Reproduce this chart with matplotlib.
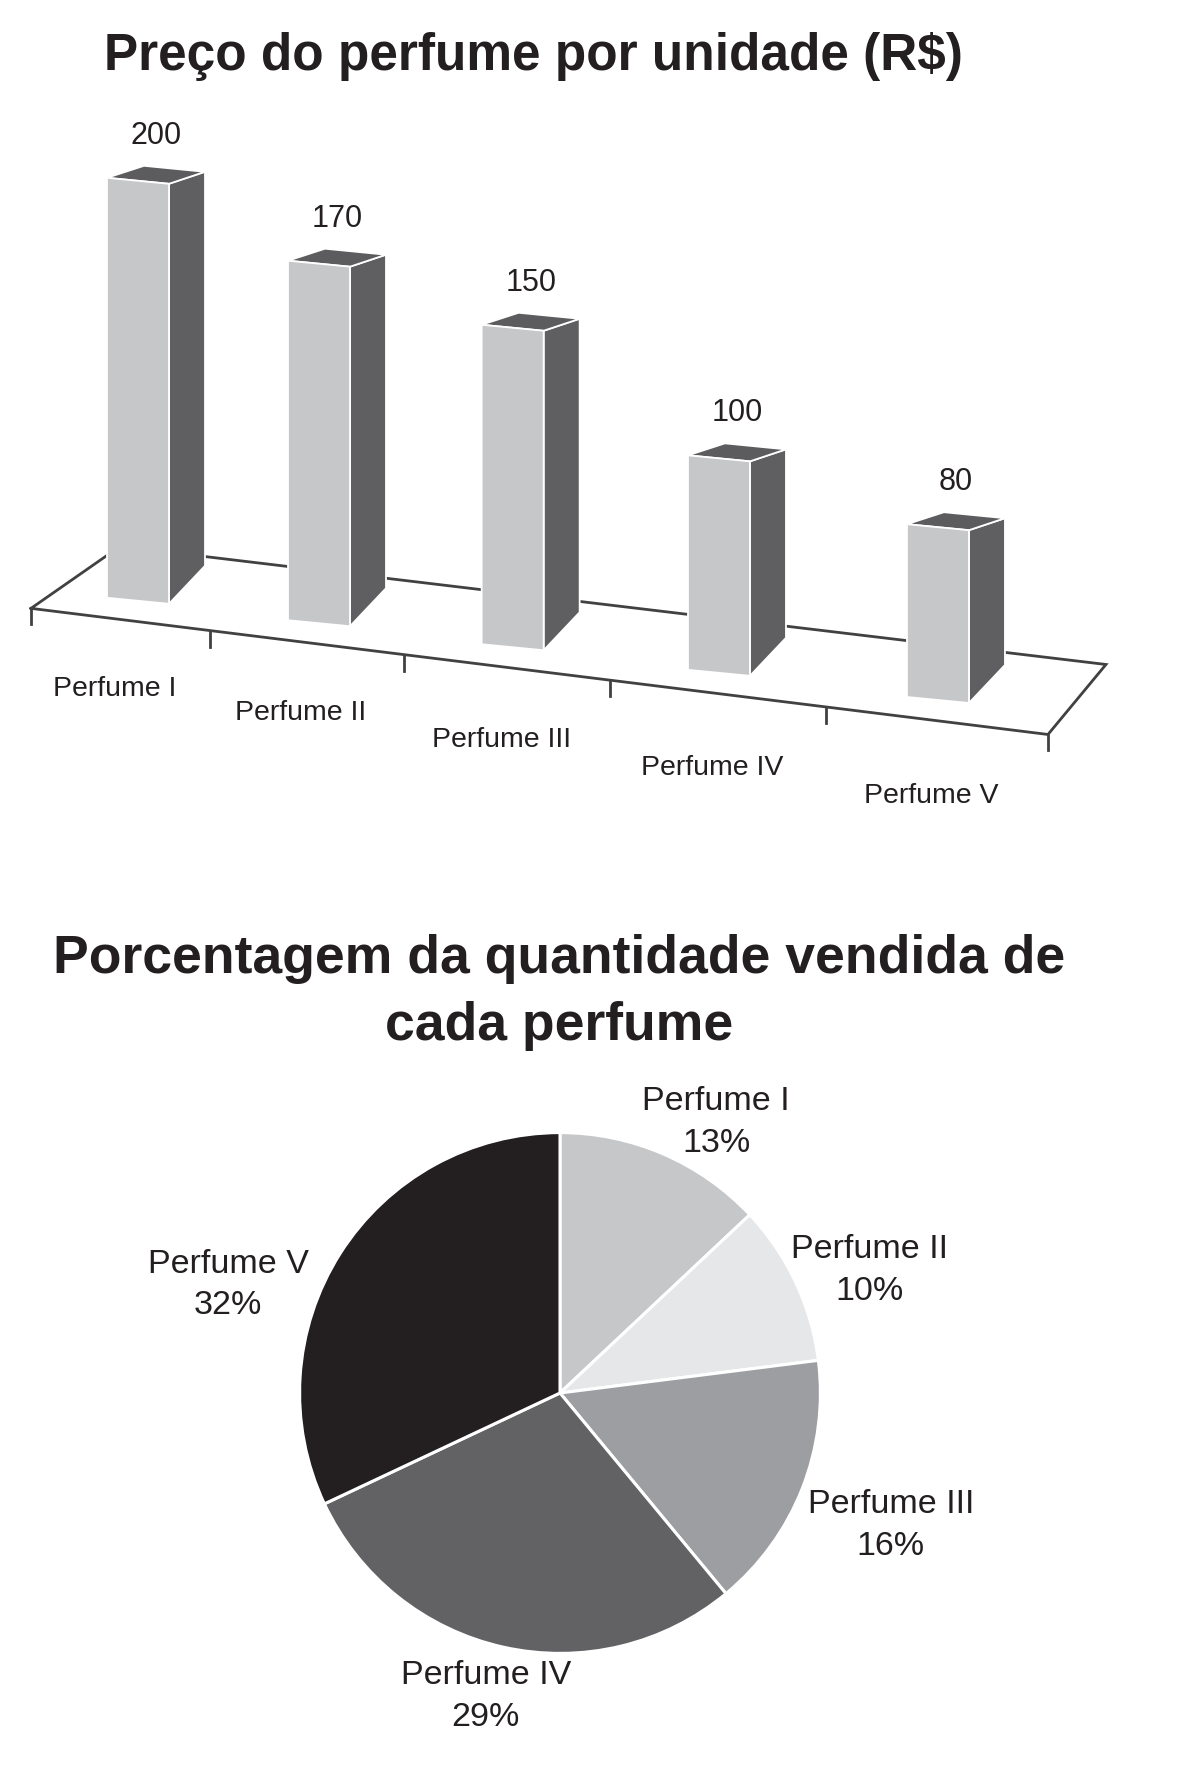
import matplotlib

matplotlib.use("Agg")
import matplotlib.pyplot as plt
from matplotlib.patches import Polygon

# ===== DATA =====
PERFUMES = ["Perfume I", "Perfume II", "Perfume III", "Perfume IV", "Perfume V"]
PRICES = [200, 170, 150, 100, 80]
SHARES = [13, 10, 16, 29, 32]

BAR_TITLE = "Preço do perfume por unidade (R$)"
PIE_TITLE_LINES = ["Porcentagem da quantidade vendida de", "cada perfume"]

# ===== LAYOUT (pixels, y grows downward) =====
FIG_W, FIG_H, DPI = 1200, 1779, 100
FONT = "Liberation Sans"
TEXT_COLOR = "#231f20"

FRONT_COLOR = "#c6c7c9"
SIDE_COLOR = "#5f5f61"
TOP_COLOR = "#5c5c5e"
FLOOR_COLOR = "#414142"
PIE_COLORS = ["#c6c7c9", "#e6e7e8", "#9d9ea1", "#626264", "#231f20"]

BAR_WIDTH = 62
BAR_DEPTH = (36, -12)
SIDE_BOTTOM_RISE = -38
FACE_SLOPE = 6
BAR_LIFT = 20
TICK_LEN = 16

PIE_CENTER = (560, 1393)
PIE_RADIUS = 263
# label block centres, in pie radius units from the centre
PIE_LABEL_POS = [(0.60, 1.04), (1.19, 0.47), (1.27, -0.51), (-0.285, -1.165), (-1.274, 0.415)]
# =============================


def tick_x(k):
    # positions along the front edge of the floor (perspective widening)
    return 31 + 170.57 * k + 8.9 * k ** 2 - 0.467 * k ** 3


def edge_y(x):
    return 608 + 0.124 * (x - 28)


def bar_left(i):
    return 107 + 174.67 * i + 6.33 * i ** 2


def value_scale(i):
    return 2.10 + 0.015 * i


def draw_floor(ax):
    fl = (tick_x(0), edge_y(tick_x(0)))
    fr = (tick_x(5), edge_y(tick_x(5)))
    bl = (fl[0] + 89, fl[1] - 62)
    br = (fr[0] + 58, fr[1] - 70)
    xs = [fl[0], fr[0], br[0], bl[0], fl[0]]
    ys = [fl[1], fr[1], br[1], bl[1], fl[1]]
    ax.plot(xs, ys, color=FLOOR_COLOR, linewidth=2.0, solid_joinstyle="miter", zorder=1)
    for k in range(len(PERFUMES) + 1):
        x = tick_x(k)
        y = edge_y(x)
        ax.plot([x, x], [y, y + TICK_LEN], color=FLOOR_COLOR, linewidth=2.0, zorder=1)


def draw_bar(ax, i, value):
    xl = bar_left(i)
    xr = xl + BAR_WIDTH
    yb = edge_y(xl) - BAR_LIFT
    yt = yb - value * value_scale(i)
    dx, dy = BAR_DEPTH
    front = [(xl, yt), (xr, yt + FACE_SLOPE), (xr, yb + FACE_SLOPE), (xl, yb)]
    side = [(xr, yt + FACE_SLOPE), (xr + dx, yt + FACE_SLOPE + dy),
            (xr + dx, yb + FACE_SLOPE + SIDE_BOTTOM_RISE), (xr, yb + FACE_SLOPE)]
    top = [(xl, yt), (xr, yt + FACE_SLOPE), (xr + dx, yt + FACE_SLOPE + dy), (xl + dx + 1, yt + dy)]
    for verts, color in ((side, SIDE_COLOR), (top, TOP_COLOR), (front, FRONT_COLOR)):
        ax.add_patch(Polygon(verts, closed=True, facecolor=color, edgecolor="white",
                             linewidth=1.3, joinstyle="miter", zorder=3))
    label_x = (xl + xr + dx) / 2
    ax.text(label_x, yt + dy - 22, f"{value}", ha="center", va="baseline",
            fontsize=22, family=FONT, color=TEXT_COLOR, zorder=4)


def main():
    fig = plt.figure(figsize=(FIG_W / DPI, FIG_H / DPI), dpi=DPI, facecolor="white")
    ax = fig.add_axes([0, 0, 1, 1])
    ax.set_xlim(0, FIG_W)
    ax.set_ylim(FIG_H, 0)
    ax.axis("off")

    ax.text(533, 70, BAR_TITLE, ha="center", va="baseline", fontsize=37,
            fontweight="bold", family=FONT, color=TEXT_COLOR)

    draw_floor(ax)
    for i, value in enumerate(PRICES):
        draw_bar(ax, i, value)

    for k, name in enumerate(PERFUMES):
        cx = (tick_x(k) + tick_x(k + 1)) / 2 - 6
        ax.text(cx, edge_y(cx) + 77 + 1.6 * k, name, ha="center", va="baseline",
                fontsize=20.5, family=FONT, color=TEXT_COLOR)

    for line, base in zip(PIE_TITLE_LINES, (973, 1040)):
        ax.text(559, base, line, ha="center", va="baseline", fontsize=38.5,
                fontweight="bold", family=FONT, color=TEXT_COLOR)

    cx, cy = PIE_CENTER
    ax_pie = fig.add_axes([(cx - PIE_RADIUS) / FIG_W, (FIG_H - cy - PIE_RADIUS) / FIG_H,
                           2 * PIE_RADIUS / FIG_W, 2 * PIE_RADIUS / FIG_H])
    ax_pie.pie(SHARES, colors=PIE_COLORS, startangle=90, counterclock=False, radius=1,
               wedgeprops=dict(edgecolor="white", linewidth=2.2))
    ax_pie.set_xlim(-1.01, 1.01)
    ax_pie.set_ylim(-1.01, 1.01)
    ax_pie.axis("off")
    for name, share, (lx, ly) in zip(PERFUMES, SHARES, PIE_LABEL_POS):
        ax_pie.text(lx, ly, f"{name}\n{share}%", ha="center", va="center", fontsize=24.5,
                    linespacing=1.45, family=FONT, color=TEXT_COLOR, clip_on=False)

    fig.savefig("out.png", dpi=DPI, facecolor="white")


if __name__ == "__main__":
    main()
